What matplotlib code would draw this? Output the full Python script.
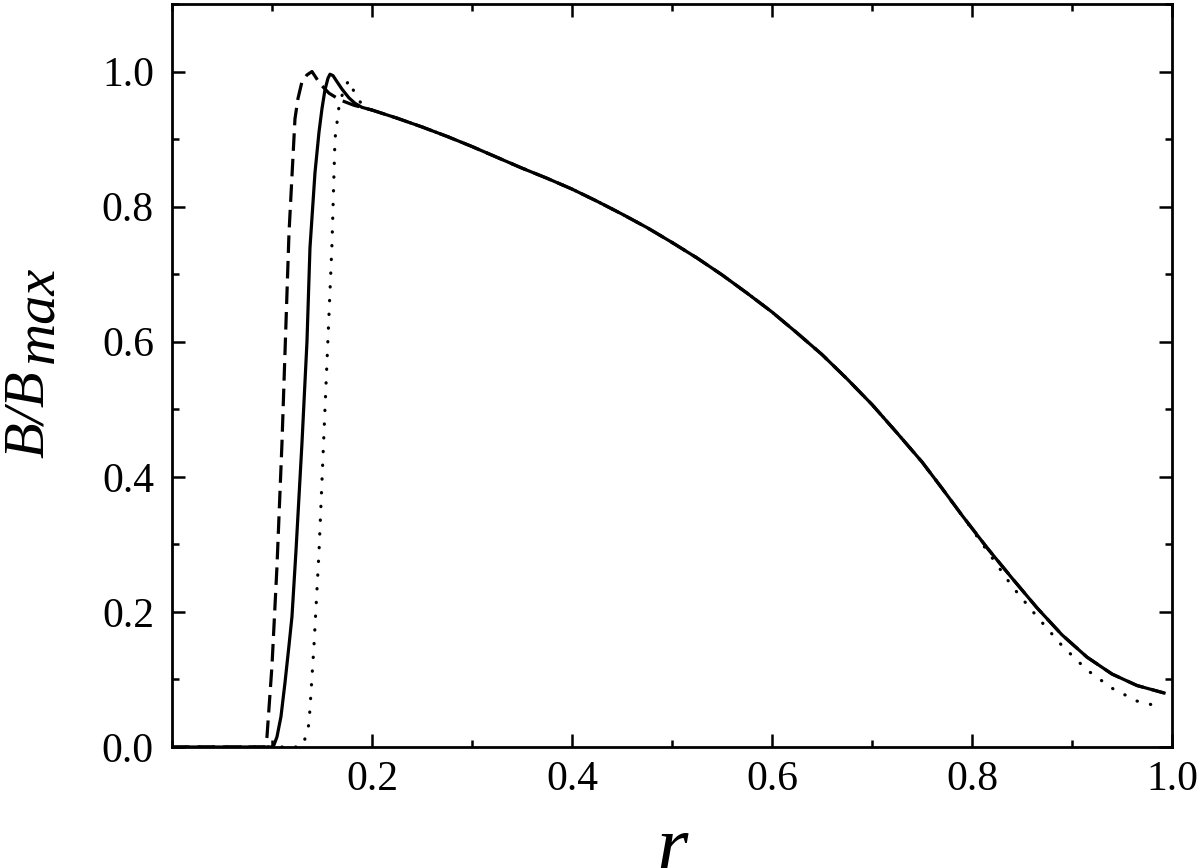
import matplotlib
matplotlib.use("Agg")
import matplotlib.pyplot as plt
from matplotlib.ticker import MultipleLocator, FixedLocator, FixedFormatter

plt.rcParams['font.family'] = ['Liberation Serif', 'DejaVu Serif']

# --- data ---
# rising edge of the solid curve
r_solid_head = [0.0, 0.100, 0.102, 0.105, 0.109, 0.113, 0.117, 0.120, 0.124, 0.130,
                0.135, 0.138, 0.143, 0.147, 0.150, 0.153, 0.156, 0.158, 0.161,
                0.165, 0.170, 0.177, 0.183, 0.190, 0.200]
b_solid_head = [0.0, 0.0, 0.003, 0.015, 0.045, 0.095, 0.150, 0.193, 0.290, 0.450,
                0.600, 0.739, 0.850, 0.910, 0.945, 0.973, 0.990, 0.996, 0.994,
                0.985, 0.974, 0.961, 0.953, 0.947, 0.943]
# rising edge of the dashed curve
r_dash_head = [0.0, 0.093, 0.095, 0.100, 0.105, 0.110, 0.117, 0.123, 0.126, 0.130,
               0.135, 0.140, 0.148, 0.157, 0.168, 0.182, 0.190, 0.200]
b_dash_head = [0.0, 0.0, 0.015, 0.120, 0.267, 0.450, 0.760, 0.930, 0.960, 0.985,
               0.995, 1.000, 0.982, 0.968, 0.958, 0.950, 0.947, 0.943]
# rising edge of the dotted curve
r_dot_head = [0.0, 0.128, 0.132, 0.137, 0.142, 0.147, 0.153, 0.160, 0.163, 0.167,
              0.172, 0.177, 0.183, 0.190, 0.200]
b_dot_head = [0.0, 0.0, 0.007, 0.034, 0.150, 0.288, 0.500, 0.744, 0.900, 0.948,
              0.975, 0.987, 0.967, 0.951, 0.943]
# common decaying part
r_common = [0.225, 0.25, 0.275, 0.30, 0.325, 0.35, 0.375, 0.40, 0.425, 0.45,
            0.475, 0.50, 0.525, 0.55, 0.575, 0.60, 0.625, 0.65, 0.675, 0.70,
            0.725, 0.75, 0.77, 0.79]
b_common = [0.931, 0.918, 0.904, 0.889, 0.873, 0.857, 0.842, 0.826, 0.808, 0.789,
            0.769, 0.747, 0.724, 0.699, 0.672, 0.644, 0.613, 0.581, 0.545, 0.507,
            0.465, 0.422, 0.383, 0.343]
# tails
r_solid_tail = [0.815, 0.84, 0.865, 0.89, 0.915, 0.94, 0.965, 0.992]
b_solid_tail = [0.295, 0.250, 0.206, 0.166, 0.133, 0.108, 0.091, 0.080]
r_dot_tail = [0.815, 0.84, 0.865, 0.89, 0.915, 0.94, 0.965, 0.987]
b_dot_tail = [0.291, 0.238, 0.193, 0.150, 0.114, 0.087, 0.068, 0.060]

x_ticks = [0.2, 0.4, 0.6, 0.8, 1.0]
x_labels = ['0.2', '0.4', '0.6', '0.8', '1.0']
y_ticks = [0.0, 0.2, 0.4, 0.6, 0.8, 1.0]
y_labels = ['0.0', '0.2', '0.4', '0.6', '0.8', '1.0']

r_solid = r_solid_head + r_common + r_solid_tail
b_solid = b_solid_head + b_common + b_solid_tail
r_dash = r_dash_head + r_common + r_solid_tail
b_dash = b_dash_head + b_common + b_solid_tail
r_dot = r_dot_head + r_common + r_dot_tail
b_dot = b_dot_head + b_common + b_dot_tail

fig = plt.figure(figsize=(12, 8.68), dpi=100)
ax = fig.add_axes([0.1433, 0.1394, 0.8334, 0.8560])

lw = 2.3
ax.plot(r_dash, b_dash, color='black', lw=lw, linestyle=(0, (5.5, 2.5)),
        solid_joinstyle='round')
ax.plot(r_dot, b_dot, color='black', lw=lw, linestyle=(0, (0.1, 4.2)),
        dash_capstyle='round')
ax.plot(r_solid, b_solid, color='black', lw=lw, linestyle='-',
        solid_joinstyle='round')

ax.set_xlim(0.0, 1.0)
ax.set_ylim(0.0, 1.1)

ax.xaxis.set_major_locator(FixedLocator(x_ticks))
ax.xaxis.set_major_formatter(FixedFormatter(x_labels))
ax.yaxis.set_major_locator(FixedLocator(y_ticks))
ax.yaxis.set_major_formatter(FixedFormatter(y_labels))
ax.xaxis.set_minor_locator(MultipleLocator(0.1))
ax.yaxis.set_minor_locator(MultipleLocator(0.1))

for sp in ax.spines.values():
    sp.set_linewidth(2.0)

ax.tick_params(which='both', direction='in', top=True, right=True, width=1.8,
               labelsize=30)
ax.tick_params(which='major', length=9.5)
ax.tick_params(which='minor', length=5)
ax.tick_params(axis='x', which='major', pad=10)
ax.tick_params(axis='y', which='major', pad=13)

# axis labels
fig.text(0.0025, (868 - 458) / 868, 'B/B', rotation=90, fontsize=42,
         style='italic', ha='left', va='bottom')
fig.text(0.011, (868 - 363) / 868, 'max', rotation=90, fontsize=42,
         style='italic', ha='left', va='bottom')
fig.text(0.5605, -0.004, 'r', fontsize=58, style='italic', ha='center',
         va='baseline')

fig.savefig('out.png', dpi=100)
